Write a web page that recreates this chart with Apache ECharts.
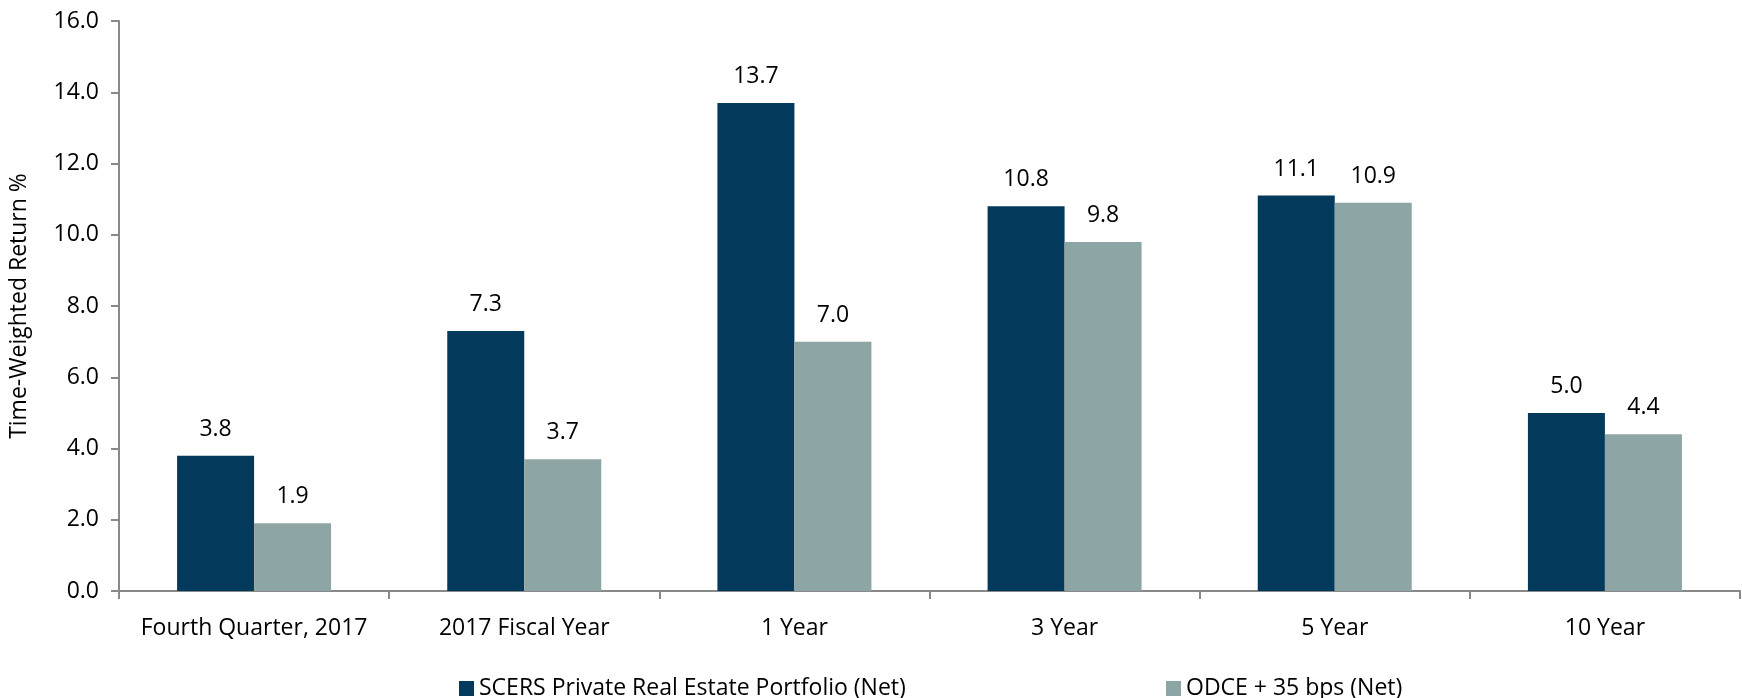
<!DOCTYPE html>
<html><head><meta charset="utf-8">
<script src="https://cdn.jsdelivr.net/npm/echarts@6/dist/echarts.min.js"></script>
<style>html,body{margin:0;padding:0;background:#fff}#c{width:1742px;height:698px}</style>
</head><body><div id="c"></div>
<script>
const categories = ["Fourth Quarter, 2017", "2017 Fiscal Year", "1 Year", "3 Year", "5 Year", "10 Year"];
const scersValues = [3.8, 7.3, 13.7, 10.8, 11.1, 5.0];
const odceValues = [1.9, 3.7, 7.0, 9.8, 10.9, 4.4];
const seriesNames = ["SCERS Private Real Estate Portfolio (Net)", "ODCE + 35 bps (Net)"];
const yTitle = "Time-Weighted Return %";

const chart = echarts.init(document.getElementById('c'));
const mainFont = "'Open Sans', sans-serif";
const axisColor = '#898989';
chart.setOption({
  animation: false,
  grid: {left: 118, right: 2, top: 21, bottom: 107, containLabel: false},
  legend: [
    {data: [seriesNames[0]], left: 454, top: 672, itemWidth: 15, itemHeight: 15, icon: 'rect',
     textStyle: {fontFamily: mainFont, fontSize: 23, color: '#000'}, itemGap: 6},
    {data: [seriesNames[1]], left: 1161, top: 672, itemWidth: 15, itemHeight: 15, icon: 'rect',
     textStyle: {fontFamily: mainFont, fontSize: 23, color: '#000'}, itemGap: 6}
  ],
  xAxis: {
    type: 'category', data: categories,
    axisLine: {lineStyle: {color: axisColor, width: 2}},
    axisTick: {show: true, length: 8, lineStyle: {color: axisColor, width: 2}},
    axisLabel: {fontFamily: mainFont, fontSize: 23, color: '#000', margin: 26, interval: 0}
  },
  yAxis: {
    type: 'value', min: 0, max: 16, interval: 2,
    name: yTitle, nameLocation: 'middle', nameGap: 88, nameRotate: 90,
    nameTextStyle: {fontFamily: mainFont, fontSize: 23, color: '#000'},
    axisLine: {show: true, lineStyle: {color: axisColor, width: 2}},
    axisTick: {show: true, length: 8, lineStyle: {color: axisColor, width: 2}},
    splitLine: {show: false},
    axisLabel: {fontFamily: mainFont, fontSize: 23, color: '#000', margin: 20,
      formatter: v => v.toFixed(1)}
  },
  series: [
    {name: seriesNames[0], type: 'bar', data: scersValues, barGap: '0%', barCategoryGap: '43%',
     itemStyle: {color: '#033A5C'},
     label: {show: true, position: 'top', distance: 15, fontFamily: mainFont, fontSize: 23, color: '#000',
       formatter: p => p.value.toFixed(1)}},
    {name: seriesNames[1], type: 'bar', data: odceValues, barGap: '0%', barCategoryGap: '43%',
     itemStyle: {color: '#8DA5A5'},
     label: {show: true, position: 'top', distance: 15, fontFamily: mainFont, fontSize: 23, color: '#000',
       formatter: p => p.value.toFixed(1)}}
  ]
});
</script></body></html>
